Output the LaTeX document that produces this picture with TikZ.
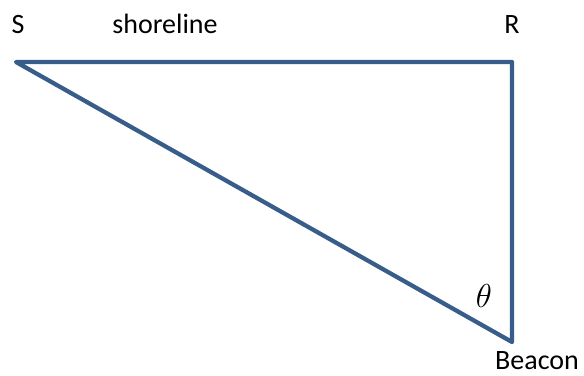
\documentclass[tikz,border=0pt]{standalone}
\usepackage{fontspec}
\setmainfont{Carlito}
\definecolor{edgeblue}{RGB}{56,93,138}
\begin{document}
\begin{tikzpicture}[x=0.75pt,y=-0.75pt,
  edge/.style={draw=edgeblue,line width=3.2pt,line join=round,line cap=butt},
  lbl/.style={font=\fontsize{21}{25}\selectfont,inner sep=0pt,anchor=base}]
\useasboundingbox (0,0) rectangle (584,375);
\coordinate (S) at (16,62);
\coordinate (R) at (512,62);
\coordinate (B) at (512,342);
\draw[edge] (S) -- (R) -- (B) -- cycle;
\node[lbl] (sl) at (18,33) {S};
\node[lbl] (shore) at (165,33) {shoreline};
\node[lbl] (rl) at (512,33) {R};
\node[lbl] (bl) at (537,369) {Beacon};
\node[font=\fontsize{24}{28}\selectfont,inner sep=0pt] (th) at (484,296) {$\theta$};
\end{tikzpicture}
\end{document}
